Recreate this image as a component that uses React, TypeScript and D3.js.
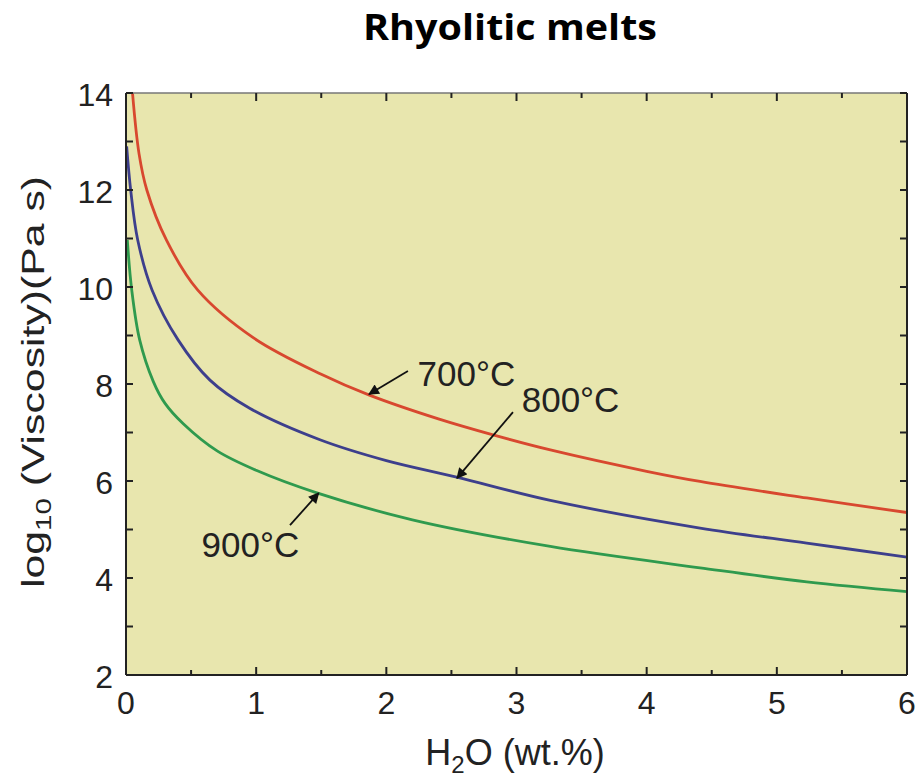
import React from "react";
import * as d3 from "d3";

const title = "Rhyolitic melts";
const xTicks = [0, 1, 2, 3, 4, 5, 6];
const xMinorTicks = [0.5, 1.5, 2.5, 3.5, 4.5, 5.5];
const yTicks = [2, 4, 6, 8, 10, 12, 14];
const yMinorTicks = [3, 5, 7, 9, 11, 13];

const seriesNames = ["700°C", "800°C", "900°C"];
const seriesColors = ["#d8482f", "#3d3f8c", "#2f9a4e"];

const red700: [number, number][] = [
  [0.05, 14.0], [0.1, 12.75], [0.16, 12.0], [0.31, 10.97], [0.55, 9.94], [0.98, 8.95],
  [1.5, 8.2], [1.87, 7.77], [2.4, 7.28], [2.82, 6.95], [3.26, 6.64], [4.0, 6.2],
  [4.41, 5.99], [5.23, 5.65], [6.0, 5.35],
];
const blue800: [number, number][] = [
  [0.005, 12.9], [0.036, 12.0], [0.09, 10.97], [0.2, 9.94], [0.4, 8.91], [0.645, 8.08],
  [0.95, 7.5], [1.49, 6.85], [2.0, 6.42], [2.54, 6.08], [3.26, 5.6], [4.41, 5.03],
  [5.23, 4.72], [6.0, 4.43],
];
const green900: [number, number][] = [
  [0.01, 10.97], [0.044, 9.94], [0.105, 8.91], [0.21, 8.05], [0.3, 7.6], [0.44, 7.18],
  [0.7, 6.62], [1.0, 6.22], [1.46, 5.76], [2.2, 5.2], [3.26, 4.65], [4.41, 4.21],
  [5.23, 3.92], [6.0, 3.72],
];
const allSeries = [red700, blue800, green900];

// annotations in data units: label start/baseline, arrow from -> to
const annotations = [
  { text: "700°C", lx: 2.24, ly: 7.96, fx: 2.166, fy: 8.27, tx: 1.867, ty: 7.79 },
  { text: "800°C", lx: 3.04, ly: 7.43, fx: 2.973, fy: 7.42, tx: 2.543, ty: 6.06 },
  { text: "900°C", lx: 0.58, ly: 4.44, fx: 1.26, fy: 5.09, tx: 1.48, ty: 5.75 },
];

export default function App() {
  const W = 917, H = 781;
  const left = 126, right = 907, top = 93, bottom = 675;
  const x = d3.scaleLinear().domain([0, 6]).range([left, right]);
  const y = d3.scaleLinear().domain([2, 14]).range([bottom, top]);
  const line = d3
    .line<[number, number]>()
    .x((d) => x(d[0]))
    .y((d) => y(d[1]))
    .curve(d3.curveCatmullRom.alpha(0.5));
  const font = "'Liberation Sans', Arial, sans-serif";

  return (
    <svg width={W} height={H} style={{ position: "absolute", left: 0, top: 0 }}>
      <defs>
        <marker id="ah" viewBox="0 0 10 10" refX="9" refY="5" markerWidth="7" markerHeight="6" orient="auto">
          <path d="M0,0 L10,5 L0,10 z" fill="#111" />
        </marker>
        <clipPath id="clip">
          <rect x={left} y={top} width={right - left} height={bottom - top} />
        </clipPath>
      </defs>
      <rect x={0} y={0} width={W} height={H} fill="#fff" />
      <text x={510} y={40} textAnchor="middle" fontFamily="'Open Sans', sans-serif" fontWeight="bold" fontSize={35}
        textLength={294} lengthAdjust="spacingAndGlyphs" fill="#000">
        {title}
      </text>
      <rect x={left} y={top} width={right - left} height={bottom - top} fill="#e8e6ae" />
      <g clipPath="url(#clip)">
        {allSeries.map((s, i) => (
          <path key={i} d={line(s) || ""} fill="none" stroke={seriesColors[i]} strokeWidth={2.8} />
        ))}
      </g>
      <line x1={left} x2={right} y1={top} y2={top} stroke="#777" strokeWidth={1.3} />
      <line x1={left} x2={right} y1={bottom} y2={bottom} stroke="#222" strokeWidth={2} />
      <line x1={left} x2={left} y1={top} y2={bottom} stroke="#222" strokeWidth={2} />
      <line x1={right} x2={right} y1={top} y2={bottom} stroke="#222" strokeWidth={2} />
      {xTicks.map((t) => (
        <g key={"xt" + t}>
          <line x1={x(t)} x2={x(t)} y1={bottom} y2={bottom - 8} stroke="#222" strokeWidth={2} />
          <line x1={x(t)} x2={x(t)} y1={top} y2={top + 8} stroke="#222" strokeWidth={2} />
          <text x={x(t)} y={714} textAnchor="middle" fontFamily={font} fontSize={32} fill="#222">{t}</text>
        </g>
      ))}
      {xMinorTicks.map((t) => (
        <g key={"xm" + t}>
          <line x1={x(t)} x2={x(t)} y1={bottom} y2={bottom - 5} stroke="#222" strokeWidth={2} />
          <line x1={x(t)} x2={x(t)} y1={top} y2={top + 5} stroke="#222" strokeWidth={2} />
        </g>
      ))}
      {yTicks.map((t) => (
        <g key={"yt" + t}>
          <line x1={left} x2={left + 7} y1={y(t)} y2={y(t)} stroke="#222" strokeWidth={2} />
          <line x1={right} x2={right - 7} y1={y(t)} y2={y(t)} stroke="#222" strokeWidth={2} />
          <text x={113} y={y(t) + 13} textAnchor="end" fontFamily={font} fontSize={32} fill="#222">{t}</text>
        </g>
      ))}
      {yMinorTicks.map((t) => (
        <g key={"ym" + t}>
          <line x1={left} x2={left + 7} y1={y(t)} y2={y(t)} stroke="#222" strokeWidth={2} />
          <line x1={right} x2={right - 7} y1={y(t)} y2={y(t)} stroke="#222" strokeWidth={2} />
        </g>
      ))}
      <text x={515} y={765} textAnchor="middle" fontFamily={font} fontSize={36} fill="#222">
        H<tspan fontSize={24} dy={8}>2</tspan><tspan dy={-8}>O (wt.%)</tspan>
      </text>
      <text transform={`translate(44,382) rotate(-90)`} textAnchor="middle" fontFamily={font} fontSize={32}
        textLength={412} lengthAdjust="spacingAndGlyphs" fill="#222">
        log<tspan fontSize={22} dy={7}>10</tspan><tspan dy={-7}> (Viscosity)(Pa s)</tspan>
      </text>
      {annotations.map((a, i) => (
        <g key={"an" + i}>
          <text x={x(a.lx)} y={y(a.ly)} fontFamily={font} fontSize={35} fill="#222">{a.text}</text>
          <line x1={x(a.fx)} y1={y(a.fy)} x2={x(a.tx)} y2={y(a.ty)} stroke="#111" strokeWidth={1.8} markerEnd="url(#ah)" />
        </g>
      ))}
    </svg>
  );
}
